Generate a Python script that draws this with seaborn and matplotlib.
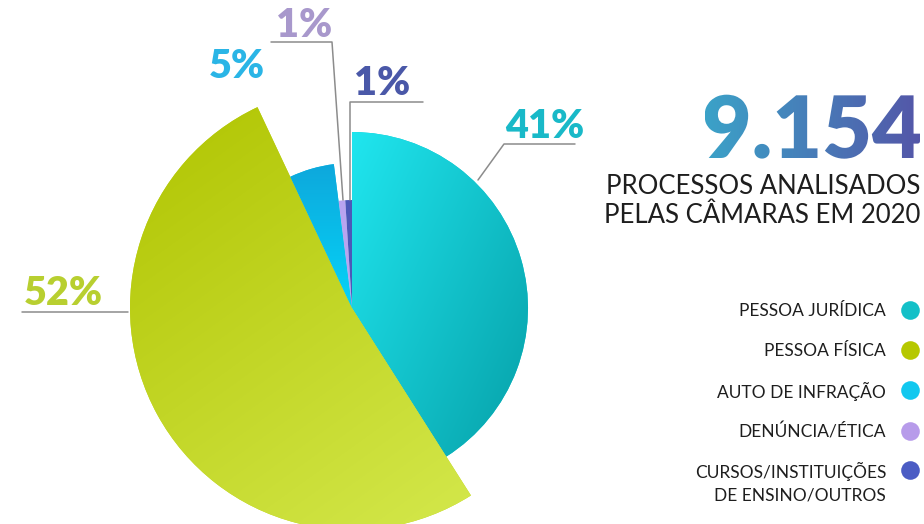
import numpy as np
import matplotlib.pyplot as plt
import seaborn as sns
from matplotlib.colors import to_rgb
from matplotlib.font_manager import FontProperties
from matplotlib.patches import PathPatch
from matplotlib.textpath import TextPath
from matplotlib.transforms import Affine2D

# --- Data ---
categories = [
    "PESSOA JURÍDICA",
    "PESSOA FÍSICA",
    "AUTO DE INFRAÇÃO",
    "DENÚNCIA/ÉTICA",
    "CURSOS/INSTITUIÇÕES\nDE ENSINO/OUTROS",
]
shares = [41, 52, 5, 1, 1]
total_label = "9.154"
subtitle_lines = ["PROCESSOS ANALISADOS", "PELAS CÂMARAS EM 2020"]

# --- Style ---
W, H = 924, 524
base_colors = ["#12c9d2", "#c0d422", "#0bc0ec", "#b9a4f0", "#4c58b8"]
grad_colors = [("#20e6ef", "#06a0a8"), ("#b0c400", "#d4e84c"),
               ("#0ea8dc", "#04d4f8"), None, None]
grad_angles = [-40, -60, -90, 0, 0]
radii = [176, 222, 145, 108, 108]
label_colors = ["#19b9c8", "#b8cf30", "#2ab5e6", "#a898cc", "#4a58a8"]
legend_colors = ["#14c0c8", "#b6c800", "#12c8ef", "#b79bea", "#4b5cc4"]
center = (352, 308)


def py(y):
    # image row -> data y (pixels, y up)
    return H - y


def gradient_image(ax, bbox, c0, c1, angle, clip, zorder):
    n = 200
    xs, ys = np.meshgrid(np.linspace(0, 1, n), np.linspace(0, 1, n))
    a = np.deg2rad(angle)
    t = xs * np.cos(a) + ys * np.sin(a)
    t = (t - t.min()) / (t.max() - t.min())
    c0, c1 = np.array(to_rgb(c0)), np.array(to_rgb(c1))
    img = c0 + t[..., None] * (c1 - c0)
    im = ax.imshow(img, extent=(bbox.x0, bbox.x1, bbox.y0, bbox.y1),
                   origin="lower", interpolation="bilinear", zorder=zorder)
    im.set_clip_path(clip)
    return im


sns.set_theme(style="white")
plt.rcParams["font.family"] = ["Lato", "DejaVu Sans"]

fig = plt.figure(figsize=(W / 100, H / 100), dpi=100)
ax = fig.add_axes([0, 0, 1, 1])

wedges, _ = ax.pie(shares, colors=base_colors, startangle=90, counterclock=False,
                   center=(center[0], py(center[1])), radius=1,
                   wedgeprops=dict(linewidth=0))
for w, r, g, ang in zip(wedges, radii, grad_colors, grad_angles):
    w.set_radius(r)
    if g is not None:
        bb = w.get_path().get_extents()
        gradient_image(ax, bb, g[0], g[1], ang, w, w.get_zorder() + 0.1)

# --- Percentage labels with leader lines ---
line_kw = dict(color="#8c8c8c", lw=1.1, zorder=5)
ax.plot([478, 504, 575], [py(180), py(144), py(144)], **line_kw)
ax.plot([22, 128], [py(312), py(312)], **line_kw)
ax.plot([271, 332, 343], [py(42), py(42), py(200)], **line_kw)
ax.plot([350, 350, 423], [py(200), py(102), py(102)], **line_kw)

pct_pos = [(505, 138), (24, 305), (209, 78), (276, 37), (354, 95)]
for val, (x, y), c in zip(shares, pct_pos, label_colors):
    ax.text(x, py(y), f"{val}%", color=c, fontsize=28.5, fontweight="heavy",
            ha="left", va="baseline", zorder=6)

# --- Big total with gradient ---
fp = FontProperties(family="Lato", weight="heavy")
tp = TextPath((0, 0), total_label, size=86, prop=fp)
ext = tp.get_extents()
tp = tp.transformed(Affine2D().translate(920 - ext.x1, py(158)))
patch = PathPatch(tp, facecolor="none", edgecolor="none", zorder=6)
ax.add_patch(patch)
gradient_image(ax, tp.get_extents(), "#3ba2c8", "#5456a8", 0, patch, 6)

for i, line in enumerate(subtitle_lines):
    ax.text(920, py(194 + i * 29), line, ha="right", va="baseline",
            fontsize=18.5, fontweight="normal", color="#1e1e1e")

# --- Legend ---
legend_y = [310, 350, 390, 431, 470]
for lab, y, c in zip(categories, legend_y, legend_colors):
    for j, part in enumerate(lab.split("\n")):
        ax.text(886, py(y + j * 24), part, ha="right", va="center_baseline",
                fontsize=12.5, color="#1e1e1e")
    ax.scatter([910], [py(y)], s=180, color=c, linewidths=0, zorder=6)

ax.set_xlim(0, W)
ax.set_ylim(0, H)
ax.set_aspect("equal")
ax.axis("off")

fig.savefig("out.png", dpi=100)
